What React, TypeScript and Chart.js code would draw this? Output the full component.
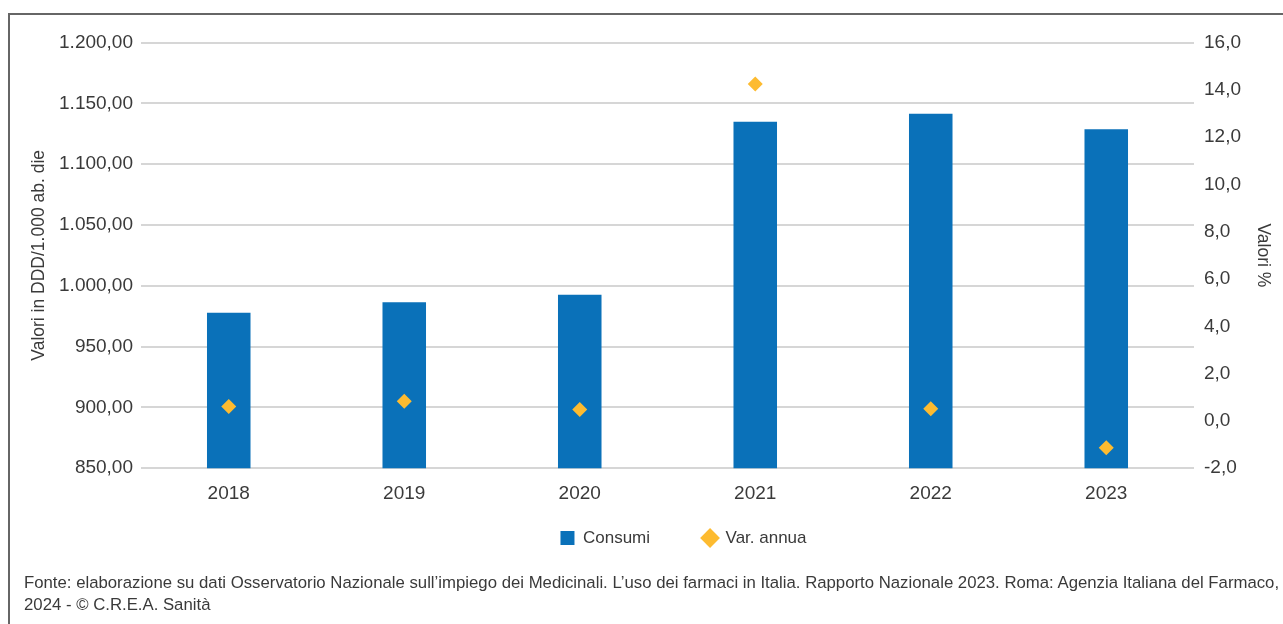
import React, { useEffect, useRef } from 'react';
import { Chart, registerables } from 'chart.js';

Chart.register(...registerables);

const categories = ['2018', '2019', '2020', '2021', '2022', '2023'];
const consumi = [977.9, 986.4, 992.7, 1134.8, 1141.4, 1128.6];
const varAnnua = [0.61, 0.83, 0.48, 14.24, 0.51, -1.14];
const seriesNames = ['Consumi', 'Var. annua'];
const leftTickLabels = ['850,00', '900,00', '950,00', '1.000,00', '1.050,00', '1.100,00', '1.150,00', '1.200,00'];
const rightTickLabels = ['-2,0', '0,0', '2,0', '4,0', '6,0', '8,0', '10,0', '12,0', '14,0', '16,0'];
const leftAxisTitle = 'Valori in DDD/1.000 ab. die';
const rightAxisTitle = 'Valori %';
const footerLines = [
  'Fonte: elaborazione su dati Osservatorio Nazionale sull\u2019impiego dei Medicinali. L\u2019uso dei farmaci in Italia. Rapporto Nazionale 2023. Roma: Agenzia Italiana del Farmaco,',
  '2024 - \u00A9 C.R.E.A. Sanit\u00E0',
];

const FONT = '"Liberation Sans", Arial, sans-serif';
const TEXT = '#3a3a3a';
const BAR = '#0A71B9';
const DIAMOND = '#FDBB30';

const legendShift = {
  id: 'legendShift',
  afterLayout(chart: any) {
    const lg = chart.legend;
    if (lg) {
      lg.left += 37;
      lg.right += 37;
      lg.top -= 42.5;
      lg.bottom -= 42.5;
    }
  },
};

export default function App() {
  const ref = useRef<HTMLCanvasElement>(null);

  useEffect(() => {
    if (!ref.current) return;
    Chart.defaults.font.family = FONT;
    const chart = new Chart(ref.current, {
      type: 'bar',
      data: {
        labels: categories,
        datasets: [
          {
            type: 'bar',
            label: seriesNames[0],
            data: consumi,
            backgroundColor: BAR,
            borderWidth: 0,
            barPercentage: 0.248,
            categoryPercentage: 1,
            yAxisID: 'y',
            order: 2,
          } as any,
          {
            type: 'line',
            label: seriesNames[1],
            data: varAnnua,
            yAxisID: 'y1',
            showLine: false,
            pointStyle: 'rectRot',
            pointRadius: 7.5,
            pointHoverRadius: 7.5,
            backgroundColor: DIAMOND,
            borderColor: DIAMOND,
            borderWidth: 0,
            order: 1,
          } as any,
        ],
      },
      options: {
        responsive: false,
        animation: false,
        layout: { padding: { top: 28.5, left: 0, right: 0, bottom: 0 } },
        plugins: {
          tooltip: { enabled: false },
          legend: {
            position: 'bottom',
            labels: {
              usePointStyle: true,
              boxWidth: 14,
              boxHeight: 14,
              padding: 53,
              color: TEXT,
              font: { family: FONT, size: 17 },
              sort: (a: any, b: any) => a.datasetIndex - b.datasetIndex,
              generateLabels: (c: any) =>
                (Chart.defaults.plugins.legend.labels as any)
                  .generateLabels(c)
                  .map((l: any) => ({ ...l, pointStyle: l.datasetIndex === 0 ? 'rect' : 'rectRot', lineWidth: 0 })),
            },
          },
        },
        scales: {
          x: {
            grid: { display: false, drawTicks: false },
            border: { display: false },
            ticks: { color: TEXT, font: { family: FONT, size: 19 }, padding: 14 },
          },
          y: {
            position: 'left',
            min: 850,
            max: 1200,
            ticks: {
              stepSize: 50,
              color: TEXT,
              font: { family: FONT, size: 19 },
              padding: 8,
              callback: (_v: any, i: number) => leftTickLabels[i],
            },
            grid: { color: '#d6d6d6', lineWidth: 2, drawTicks: false },
            border: { display: false },
            title: {
              display: true,
              text: leftAxisTitle,
              color: TEXT,
              font: { family: FONT, size: 17.5 },
              padding: { top: 19, bottom: 0 },
            },
            afterFit: (s: any) => {
              s.width = 131;
            },
          },
          y1: {
            position: 'right',
            min: -2,
            max: 16,
            ticks: {
              stepSize: 2,
              color: TEXT,
              font: { family: FONT, size: 19 },
              padding: 10,
              callback: (_v: any, i: number) => rightTickLabels[i],
            },
            grid: { display: false, drawTicks: false },
            border: { display: false },
            title: {
              display: true,
              text: rightAxisTitle,
              color: TEXT,
              font: { family: FONT, size: 17.5 },
              padding: { top: 10, bottom: 0 },
            },
            afterFit: (s: any) => {
              s.width = 89;
            },
          },
        },
      } as any,
      plugins: [legendShift],
    });
    return () => chart.destroy();
  }, []);

  return (
    <div style={{ position: 'fixed', left: 0, top: 0, width: 1283, height: 624, overflow: 'hidden', background: '#fff' }}>
      <div
        style={{
          position: 'absolute',
          left: 8,
          top: 13,
          width: 1400,
          height: 800,
          border: '2px solid #666',
          boxSizing: 'border-box',
        }}
      />
      <canvas
        ref={ref}
        width={1273}
        height={585}
        style={{ position: 'absolute', left: 10, top: 14, width: 1273, height: 585 }}
      />
      <div
        style={{
          position: 'absolute',
          left: 24,
          top: 572,
          fontFamily: FONT,
          fontSize: 16.75,
          lineHeight: '22px',
          color: TEXT,
          whiteSpace: 'nowrap',
        }}
      >
        {footerLines.map((t, i) => (
          <div key={i}>{t}</div>
        ))}
      </div>
    </div>
  );
}
